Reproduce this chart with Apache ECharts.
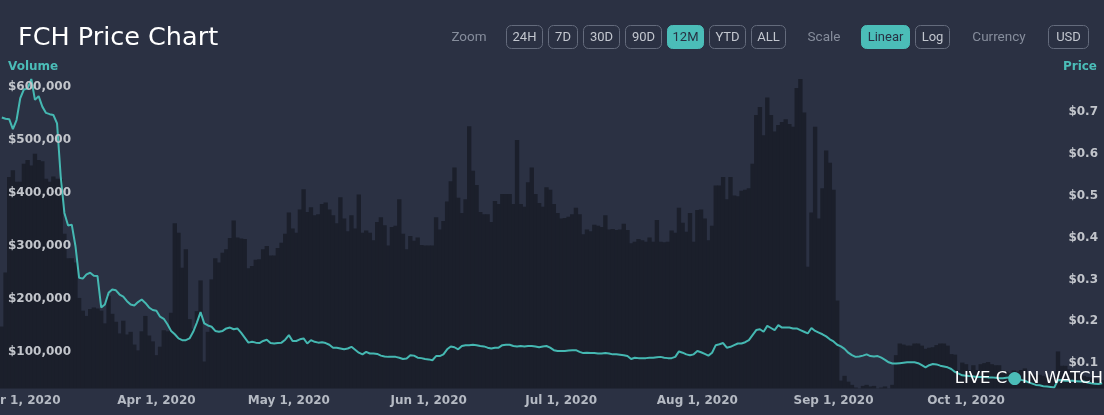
<!DOCTYPE html>
<html>
<head>
<meta charset="utf-8">
<script src="https://cdn.jsdelivr.net/npm/echarts@6/dist/echarts.min.js"></script>
<style>
  html, body { margin: 0; padding: 0; background: #2b3143; }
  #chart { width: 1104px; height: 415px; }
</style>
</head>
<body>
<div id="chart"></div>
<script>
// Each bar / point is one 20-hour slot, starting at this time (UTC)
const slotStart = '2020-02-25T05:00:00Z';
const slotHours = 20;

// Volume in USD per slot
const volume = [
  148000,250000,430000,443000,421000,421000,455000,462000,452000,474000,
  462000,460000,427000,421000,431000,427000,426000,323000,277000,277000,
  269000,202000,178000,168000,181000,184000,182000,178000,154000,206000,
  172000,157000,135000,159000,133000,138000,114000,103000,139000,168000,
  131000,120000,94000,110000,141000,139000,174000,343000,325000,259000,
  294000,162000,144000,177000,235000,82000,138000,237000,277000,269000,
  287000,294000,315000,348000,316000,314000,313000,258000,262000,274000,
  275000,294000,300000,282000,282000,296000,306000,323000,363000,333000,
  325000,369000,407000,364000,373000,358000,360000,379000,382000,369000,
  358000,343000,392000,352000,328000,358000,333000,397000,325000,329000,
  325000,311000,345000,354000,339000,301000,336000,338000,388000,323000,
  294000,319000,310000,316000,302000,301000,301000,301000,354000,331000,
  347000,384000,422000,448000,391000,362000,388000,526000,442000,415000,
  364000,360000,360000,345000,385000,379000,398000,398000,398000,379000,
  500000,379000,374000,420000,448000,398000,381000,374000,411000,406000,
  379000,362000,352000,353000,355000,360000,372000,360000,322000,331000,
  328000,340000,338000,336000,358000,331000,332000,330000,331000,342000,
  330000,305000,308000,313000,311000,308000,316000,308000,349000,308000,
  307000,308000,329000,325000,372000,344000,327000,362000,308000,368000,
  369000,352000,311000,338000,414000,414000,430000,388000,430000,395000,
  394000,404000,406000,409000,455000,547000,562000,509000,580000,547000,
  516000,528000,534000,539000,530000,525000,598000,615000,552000,261000,
  363000,525000,352000,409000,480000,457000,406000,197000,46000,55000,
  44000,38000,33000,31000,36000,38000,35000,36000,31000,33000,
  35000,31000,38000,94000,116000,114000,112000,112000,116000,116000,
  112000,106000,108000,109000,113000,116000,116000,112000,96000,95000,
  65000,80000,77000,66000,75000,66000,77000,79000,81000,77000,
  75000,75000,65000,63000,60000,65000,63000,66000,69000,61000,
  57000,57000,57000,55000,53000,53000,53000,101000,74000,74000,
  67000,63000,60000,57000,55000,53000,52000,50000,48000,47000
];

// Price in USD per slot
const price = [
  0.687,0.684,0.683,0.659,0.681,0.733,0.754,0.756,0.779,0.729,
  0.738,0.713,0.698,0.695,0.693,0.673,0.546,0.459,0.429,0.431,
  0.380,0.304,0.302,0.312,0.316,0.309,0.308,0.233,0.240,0.268,
  0.276,0.274,0.264,0.259,0.248,0.240,0.238,0.246,0.252,0.244,
  0.233,0.227,0.225,0.211,0.206,0.193,0.177,0.169,0.159,0.155,
  0.155,0.159,0.175,0.197,0.222,0.195,0.190,0.187,0.177,0.175,
  0.177,0.183,0.185,0.181,0.183,0.173,0.161,0.149,0.151,0.149,
  0.148,0.153,0.156,0.148,0.147,0.148,0.149,0.156,0.167,0.153,
  0.153,0.157,0.159,0.147,0.155,0.151,0.149,0.150,0.148,0.144,
  0.137,0.137,0.135,0.133,0.135,0.139,0.132,0.125,0.121,0.127,
  0.123,0.123,0.122,0.118,0.116,0.115,0.115,0.115,0.113,0.110,
  0.111,0.119,0.118,0.113,0.112,0.110,0.109,0.107,0.117,0.117,
  0.121,0.133,0.140,0.138,0.133,0.141,0.143,0.143,0.144,0.143,
  0.141,0.140,0.137,0.135,0.137,0.137,0.143,0.144,0.144,0.141,
  0.140,0.141,0.140,0.141,0.141,0.140,0.138,0.140,0.141,0.137,
  0.131,0.129,0.129,0.129,0.130,0.131,0.131,0.127,0.124,0.125,
  0.124,0.124,0.123,0.123,0.124,0.123,0.121,0.121,0.120,0.119,
  0.117,0.110,0.113,0.112,0.112,0.112,0.113,0.113,0.114,0.115,
  0.113,0.112,0.112,0.115,0.128,0.125,0.121,0.119,0.121,0.129,
  0.126,0.122,0.118,0.125,0.143,0.145,0.148,0.137,0.139,0.143,
  0.147,0.147,0.150,0.155,0.167,0.179,0.181,0.175,0.189,0.184,
  0.179,0.191,0.185,0.185,0.185,0.183,0.183,0.179,0.175,0.171,
  0.184,0.177,0.173,0.169,0.164,0.157,0.152,0.144,0.140,0.134,
  0.125,0.119,0.115,0.116,0.118,0.121,0.117,0.116,0.117,0.113,
  0.108,0.102,0.099,0.099,0.100,0.101,0.102,0.102,0.102,0.100,
  0.095,0.090,0.095,0.098,0.097,0.094,0.092,0.090,0.086,0.079,
  0.075,0.071,0.070,0.069,0.068,0.067,0.067,0.067,0.066,0.066,
  0.065,0.064,0.064,0.065,0.066,0.066,0.063,0.060,0.058,0.054,
  0.051,0.048,0.047,0.045,0.044,0.043,0.042,0.060,0.059,0.058,
  0.058,0.058,0.057,0.056,0.056,0.054,0.052,0.051,0.050,0.052
];

const monthNames = ['Jan','Feb','Mar','Apr','May','Jun','Jul','Aug','Sep','Oct','Nov','Dec'];
const zoomButtons = ['24H','7D','30D','90D','12M','YTD','ALL'];
const scaleButtons = ['Linear','Log'];
const currencyButtons = ['USD'];

// ---- build categories (slot start times) ----
const slotMs = slotHours * 3600 * 1000;
const t0 = Date.parse(slotStart);
const categories = volume.map((_, i) => new Date(t0 + i * slotMs).toISOString());

function monthStartIn(slotIso) {
  const a = Date.parse(slotIso);
  const b = a + slotMs;
  const d = new Date(b);
  const m = Date.UTC(d.getUTCFullYear(), d.getUTCMonth(), 1);
  return (m > a && m <= b) ? new Date(m) : null;
}

const BG = '#2b3143';
const TEAL = '#4bbdb8';
const BAR = '#1b1f2b';
const chart = echarts.init(document.getElementById('chart'), null, { renderer: 'canvas' });

// toolbar graphics
const graphics = [];
function button(label, x, w, active) {
  graphics.push({
    type: 'rect', z: 300,
    shape: { x: x + 0.5, y: 25.5, width: w, height: 23, r: 5 },
    style: active ? { fill: TEAL, stroke: TEAL, lineWidth: 1 } : { fill: 'transparent', stroke: '#646b7c', lineWidth: 1 }
  });
  graphics.push({
    type: 'text', z: 301,
    style: {
      x: x + 0.5 + w / 2, y: 37.5, text: label, align: 'center', verticalAlign: 'middle',
      fill: active ? '#283043' : '#c3c7cf', font: '13px Roboto'
    }
  });
}
function plainLabel(label, cx) {
  graphics.push({
    type: 'text', z: 301,
    style: { x: cx, y: 38, text: label, align: 'center', verticalAlign: 'middle', fill: '#868d9c', font: '13.5px Roboto' }
  });
}
plainLabel('Zoom', 469);
const zoomX = [506, 548, 583, 625, 667, 709, 751];
const zoomW = [36, 29, 36, 36, 36, 36, 34];
zoomButtons.forEach((b, i) => button(b, zoomX[i], zoomW[i], b === '12M'));
plainLabel('Scale', 824);
button(scaleButtons[0], 861, 48, true);
button(scaleButtons[1], 915, 34, false);
plainLabel('Currency', 999);
button(currencyButtons[0], 1048, 40, false);

// title
graphics.push({
  type: 'text', z: 301,
  style: { x: 18, y: 38, text: 'FCH Price Chart', verticalAlign: 'middle', fill: '#ffffff', font: '25.5px "DejaVu Sans"' }
});
// axis titles
graphics.push({
  type: 'text', z: 301,
  style: { x: 8, y: 67, text: 'Volume', verticalAlign: 'middle', fill: TEAL, font: 'bold 12px "DejaVu Sans"' }
});
graphics.push({
  type: 'text', z: 301,
  style: { x: 1097, y: 67, text: 'Price', align: 'right', verticalAlign: 'middle', fill: TEAL, font: 'bold 12px "DejaVu Sans"' }
});
// bottom band covering plot below the x-axis line
graphics.push({
  type: 'rect', z: 100, silent: true,
  shape: { x: 0, y: 388.5, width: 1104, height: 30 },
  style: { fill: BG }
});
// watermark
graphics.push({
  type: 'text', z: 320,
  style: {
    x: 1103, y: 379, align: 'right', verticalAlign: 'middle',
    text: '{a|LIVE C}{b|●}{a|IN WATCH}',
    rich: {
      a: { fill: '#ffffff', fontSize: 16.5, fontFamily: 'DejaVu Sans', fontWeight: 500 },
      b: { fill: TEAL, fontSize: 17, fontFamily: 'DejaVu Sans' }
    }
  }
});

const option = {
  backgroundColor: BG,
  animation: false,
  grid: { left: 0, right: 0, top: 79, bottom: 10, containLabel: false, outerBoundsMode: 'none' },
  graphic: graphics,
  xAxis: {
    type: 'category',
    data: categories,
    boundaryGap: true,
    z: 200,
    offset: -17,
    axisLine: { show: false },
    axisTick: { show: false },
    splitLine: { show: false },
    axisLabel: {
      margin: 7,
      interval: (idx, val) => idx < categories.length - 12 && monthStartIn(val) !== null,
      formatter: (val) => {
        const m = monthStartIn(val);
        return m ? monthNames[m.getUTCMonth()] + ' ' + m.getUTCDate() + ', ' + m.getUTCFullYear() : '';
      },
      color: '#b5bac3',
      fontFamily: 'DejaVu Sans',
      fontWeight: 'bold',
      fontSize: 12
    }
  },
  yAxis: [
    {
      type: 'value', position: 'left', min: 0, max: 'dataMax', interval: 100000, z: 150,
      axisLine: { show: false }, axisTick: { show: false }, splitLine: { show: false },
      axisLabel: {
        inside: true, margin: 8, showMinLabel: false, showMaxLabel: false,
        color: '#c2c5cb', fontFamily: 'DejaVu Sans', fontWeight: 'bold', fontSize: 12,
        formatter: v => '$' + v.toLocaleString('en-US')
      }
    },
    {
      type: 'value', position: 'right', min: 0, max: 'dataMax', interval: 0.1, z: 150,
      axisLine: { show: false }, axisTick: { show: false }, splitLine: { show: false },
      axisLabel: {
        inside: true, margin: 6, showMinLabel: false, showMaxLabel: false,
        color: '#c2c5cb', fontFamily: 'DejaVu Sans', fontWeight: 'bold', fontSize: 12,
        formatter: v => '$' + v.toFixed(1)
      }
    }
  ],
  series: [
    {
      name: 'Volume', type: 'bar', yAxisIndex: 0, data: volume,
      barWidth: '118%', barCategoryGap: 0,
      itemStyle: { color: BAR },
      silent: true
    },
    {
      name: 'Price', type: 'line', yAxisIndex: 1, data: price,
      symbol: 'none', smooth: false,
      lineStyle: { color: '#45b8b2', width: 2 },
      silent: true, z: 3
    }
  ]
};
chart.setOption(option);
</script>
</body>
</html>
